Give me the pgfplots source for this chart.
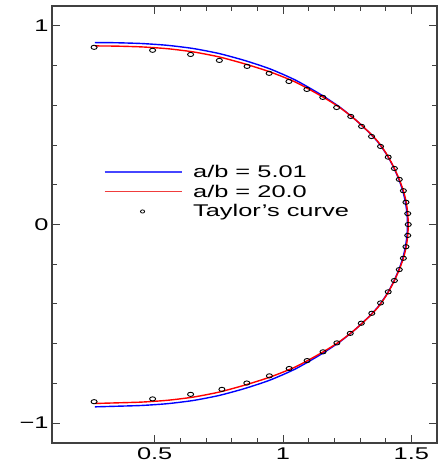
\documentclass[border=0pt]{standalone}
\usepackage{fontspec}
\setmainfont{Liberation Sans}
\usepackage{graphicx}
\usepackage{pgfplots}
\pgfplotsset{compat=1.18}
\definecolor{legblue}{RGB}{70,70,255}
\definecolor{legred}{RGB}{240,60,60}

\newcommand{\wide}[1]{\scalebox{1.5}[1]{#1}}

\begin{document}
\begin{tikzpicture}
\begin{axis}[
  scale only axis,
  width=385bp, height=437bp,
  xmin=0.1, xmax=1.6, ymin=-1.1, ymax=1.1,
  xtick={0.5,1,1.5}, xticklabels={\wide{0.5},\wide{1},\wide{1.5}},
  ytick={-1,0,1}, yticklabels={\wide{−1},\wide{0},\wide{1}},
  minor x tick num=4, minor y tick num=4,
  tick align=inside, tick pos=both,
  major tick length=8bp, minor tick length=5bp,
  axis line style={black!75, line width=1.2bp},
  every tick/.style={black!75, line width=1bp},
  tick label style={font=\fontsize{17}{20}\selectfont},
  xticklabel style={yshift=-1bp},
  legend style={draw=none, fill=none, at={(axis cs:0.29,0.165)}, anchor=west,
    font=\fontsize{17}{19}\selectfont, row sep=2bp,
    /tikz/every odd column/.append style={column sep=9bp}},
  legend cell align=left,
  legend image code/.code={\draw[#1] (0bp,0bp) -- (77bp,0bp);},
]
\addlegendimage{draw=legblue, line width=1.2bp}
\addlegendentry{\wide{a/b = 5.01}}
\addlegendimage{draw=legred, line width=1.2bp}
\addlegendentry{\wide{a/b = 20.0}}
\addlegendimage{legend image code/.code={\draw[black, line width=0.8bp] (38bp,0bp) ellipse [x radius=2.1bp, y radius=1.6bp];}}
\addlegendentry{\wide{Taylor's curve}}

% a/b = 5.01
\addplot[blue, line width=1.4bp, smooth, tension=0.4, forget plot]
  coordinates {
  (0.267,0.916)(0.35,0.915)(0.45,0.911)(0.55,0.902)(0.65,0.886)(0.75,0.861)
  (0.85,0.826)(0.95,0.783)(1.05,0.726)(1.15,0.652)(1.22,0.592)(1.28,0.530)
  (1.33,0.470)(1.37,0.415)(1.405,0.350)(1.432,0.285)(1.452,0.225)(1.467,0.168)
  (1.477,0.112)(1.483,0.056)(1.485,0)
  (1.483,-0.056)(1.477,-0.112)(1.467,-0.168)(1.452,-0.225)(1.432,-0.285)
  (1.405,-0.350)(1.37,-0.415)(1.33,-0.470)(1.28,-0.530)(1.22,-0.592)
  (1.15,-0.652)(1.05,-0.726)(0.95,-0.783)(0.85,-0.826)(0.75,-0.861)
  (0.65,-0.886)(0.55,-0.902)(0.45,-0.911)(0.35,-0.915)(0.267,-0.918)
};

% a/b = 20.0
\addplot[red, line width=1.4bp, smooth, tension=0.4, forget plot]
  coordinates {
  (0.267,0.899)(0.35,0.898)(0.45,0.894)(0.55,0.885)(0.65,0.869)(0.75,0.844)
  (0.85,0.809)(0.95,0.768)(1.05,0.716)(1.15,0.646)(1.22,0.590)(1.28,0.530)
  (1.33,0.471)(1.37,0.417)(1.405,0.352)(1.432,0.288)(1.453,0.227)(1.469,0.170)
  (1.480,0.113)(1.486,0.056)(1.488,0)
  (1.486,-0.056)(1.480,-0.113)(1.469,-0.170)(1.453,-0.227)(1.432,-0.288)
  (1.405,-0.352)(1.37,-0.417)(1.33,-0.471)(1.28,-0.530)(1.22,-0.590)
  (1.15,-0.646)(1.05,-0.716)(0.95,-0.768)(0.85,-0.809)(0.75,-0.844)
  (0.65,-0.869)(0.55,-0.885)(0.45,-0.894)(0.35,-0.898)(0.267,-0.901)
};

% Taylor's curve
\addplot[only marks, mark=o, mark size=2.1pt, mark options={xscale=1.45, line width=0.9bp, black}, forget plot]
  coordinates {
  (0.264,0.892)(0.492,0.877)(0.640,0.856)(0.752,0.826)(0.860,0.796)(0.946,0.761)
  (1.023,0.720)(1.093,0.680)(1.155,0.640)(1.209,0.589)(1.264,0.544)(1.306,0.494)
  (1.345,0.443)(1.380,0.393)(1.410,0.339)(1.434,0.282)(1.453,0.227)(1.469,0.170)
  (1.479,0.112)(1.486,0.055)(1.488,0)
  (1.486,-0.055)(1.479,-0.112)(1.469,-0.170)(1.453,-0.227)(1.434,-0.282)
  (1.410,-0.339)(1.380,-0.395)(1.346,-0.447)(1.305,-0.497)(1.262,-0.548)
  (1.210,-0.596)(1.156,-0.641)(1.094,-0.685)(1.024,-0.725)(0.947,-0.762)
  (0.859,-0.798)(0.762,-0.830)(0.640,-0.855)(0.492,-0.878)(0.264,-0.892)
};
\end{axis}
\path ([xshift=-52bp,yshift=-23bp]current axis.south west) rectangle ([xshift=3bp,yshift=6bp]current axis.north east);
\end{tikzpicture}
\end{document}
